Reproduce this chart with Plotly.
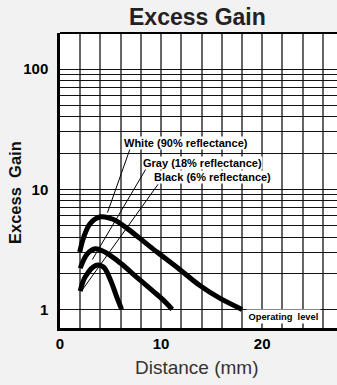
import numpy as np
import plotly.graph_objects as go

# ---- data ----
white_x = [1.95, 2.35, 3.0, 4.0, 5.3, 6.6, 7.9, 9.6, 11.9, 13.8, 15.8, 18.0]
white_y = [3.0, 4.0, 5.2, 5.9, 5.6, 4.75, 3.9, 3.0, 2.13, 1.59, 1.24, 1.0]
gray_x = [2.0, 2.7, 3.5, 4.6, 6.0, 7.6, 9.2, 10.2, 11.1]
gray_y = [2.2, 2.9, 3.2, 2.95, 2.42, 1.85, 1.42, 1.2, 1.0]
black_x = [2.0, 2.5, 3.6, 4.3, 5.0, 5.6, 6.1]
black_y = [1.42, 1.87, 2.33, 2.25, 1.75, 1.28, 1.0]

leader_white_x = [6.95, 4.7]
leader_white_y = [22.0, 6.4]
leader_gray_x = [8.55, 3.2]
leader_gray_y = [15.0, 2.6]
leader_black_x = [9.7, 2.12]
leader_black_y = [11.0, 1.42]

labels = ["White (90% reflectance)", "Gray (18% reflectance)", "Black (6% reflectance)"]
label_x = [6.2, 8.15, 9.2]
label_y = [24.2, 16.7, 12.7]

x_grid = list(range(0, 28, 2))
x_labels = {0: "0", 10: "10", 20: "20"}
y_grid = [1, 2, 3, 4, 5, 6, 7, 8, 9, 10, 20, 30, 40, 50, 60, 70, 80, 90, 100, 200]
y_labels = {1: "1", 10: "10", 100: "100"}

L, R, T, B, W, H = 60, 0, 33, 57, 337, 385
PW, PH = W - L - R, H - T - B
FONT = "Liberation Sans, Arial, sans-serif"


def px(xp):
    return (xp - L) / PW


def py(yp):
    return (H - yp - B) / PH


fig = go.Figure()

for xs, ys in [(white_x, white_y), (gray_x, gray_y), (black_x, black_y)]:
    fig.add_trace(go.Scatter(x=xs, y=ys, mode="lines",
                             line=dict(color="black", width=5, shape="spline", smoothing=1.0),
                             hoverinfo="skip", showlegend=False))

for xs, ys in [(leader_white_x, leader_white_y), (leader_gray_x, leader_gray_y),
               (leader_black_x, leader_black_y)]:
    fig.add_trace(go.Scatter(x=xs, y=ys, mode="lines",
                             line=dict(color="black", width=1),
                             hoverinfo="skip", showlegend=False))

annots = []
for t, lx, ly in zip(labels, label_x, label_y):
    annots.append(dict(x=lx, y=np.log10(ly), text="<b>" + t + "</b>", showarrow=False,
                       xanchor="left", yanchor="middle",
                       font=dict(family=FONT, size=11, color="black"),
                       bgcolor="white", borderpad=0))

annots.append(dict(x=18.4, y=np.log10(0.865), text="<b>Operating  level</b>", showarrow=False,
                   xanchor="left", yanchor="middle",
                   font=dict(family=FONT, size=9.3, color="black"),
                   bgcolor="white", borderpad=1.5))

annots += [
    dict(xref="paper", yref="paper", x=px(197), y=py(17),
         text="<b>Excess Gain</b>", showarrow=False, xanchor="center", yanchor="middle",
         font=dict(family=FONT, size=23, color="#222")),
    dict(xref="paper", yref="paper", x=px(15), y=py(193),
         text="<b>Excess  Gain</b>", showarrow=False, xanchor="center", yanchor="middle",
         textangle=-90, font=dict(family=FONT, size=16.5, color="#111")),
    dict(xref="paper", yref="paper", x=px(197), y=py(367),
         text="Distance (mm)", showarrow=False, xanchor="center", yanchor="middle",
         font=dict(family=FONT, size=19, color="#333")),
]

fig.update_layout(
    width=W, height=H,
    margin=dict(l=L, r=R, t=T, b=B, autoexpand=False),
    paper_bgcolor="#f2f2f2", plot_bgcolor="white",
    showlegend=False,
    annotations=annots,
    xaxis=dict(range=[0, 27.4], tickvals=x_grid, automargin=False,
               ticktext=["<b>" + x_labels[v] + "</b>" if v in x_labels else "" for v in x_grid],
               showgrid=True, gridcolor="#666", gridwidth=1.5,
               zeroline=False, showline=True, linecolor="black", linewidth=2.5,
               ticks="", tickfont=dict(family=FONT, size=15, color="black")),
    yaxis=dict(type="log", range=[np.log10(0.7), np.log10(200)], tickvals=y_grid, automargin=False,
               ticktext=["<b>" + y_labels[v] + "</b>" if v in y_labels else "" for v in y_grid],
               showgrid=True, gridcolor="#111", gridwidth=1.2,
               zeroline=False, showline=True, linecolor="black", linewidth=2.5,
               ticks="", ticklabelstandoff=6,
               tickfont=dict(family=FONT, size=15, color="black")),
)

fig.add_shape(type="line", xref="paper", yref="paper", x0=0, x1=1, y0=1, y1=1,
              line=dict(color="black", width=2))

fig.write_html("out.html", config={"displayModeBar": False},
               post_script="document.body.style.margin='0';document.body.style.overflow='hidden';")
